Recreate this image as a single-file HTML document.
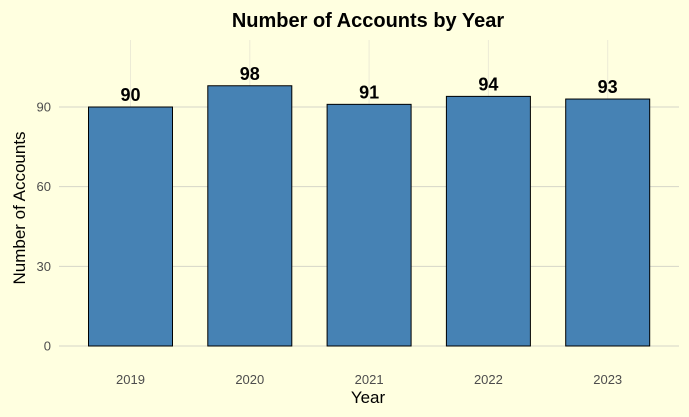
<!DOCTYPE html>
<html><head><meta charset="utf-8"><style>
html,body{margin:0;padding:0;background:#FFFFE0;}
svg{display:block;font-family:"Liberation Sans",sans-serif;}
</style></head><body>
<svg id="chart" width="689" height="417" viewBox="0 0 689 417">
<rect width="689" height="417" fill="#FFFFE0"/>
<text x="368" y="27" text-anchor="middle" font-size="20" font-weight="bold" fill="#000">Number of Accounts by Year</text>
<g id="grid"></g><g id="bars"></g><g id="labels"></g><g id="axes"></g>
<text x="368" y="403" text-anchor="middle" font-size="17" fill="#000">Year</text>
<text transform="translate(25,208) rotate(-90)" text-anchor="middle" font-size="17" fill="#000">Number of Accounts</text>
</svg>
<script>
const categories = ["2019","2020","2021","2022","2023"];
const values = [90,98,91,94,93];
const yTicks = [0,30,60,90];
const ns="http://www.w3.org/2000/svg";
const y0=346, pxPerUnit=(346-107)/90;
function yScale(v){return y0-v*pxPerUnit;}
const step=119.3, firstX=130.5;
function xScale(i){return firstX+i*step;}
const bw=84;
function mk(tag,attrs,parent){const e=document.createElementNS(ns,tag);for(const k in attrs)e.setAttribute(k,attrs[k]);document.getElementById(parent).appendChild(e);return e;}
yTicks.forEach(t=>{
  const l=mk('line',{x1:59,x2:679,y1:yScale(t),y2:yScale(t),stroke:'#d6d6c8','stroke-width':1},'grid');
  
  
  const tx=mk('text',{x:51,y:yScale(t)+4.5,'text-anchor':'end','font-size':13,fill:'#4d4d4d'},'axes');
  tx.textContent=t;
  
  
});
categories.forEach((c,i)=>{
  const g=mk('line',{x1:xScale(i),x2:xScale(i),y1:40,y2:346,stroke:'#ecebd6','stroke-width':1},'grid');
  
  
  const r=mk('rect',{x:xScale(i)-bw/2,y:yScale(values[i]),width:bw,height:y0-yScale(values[i]),fill:'#4682B4',stroke:'#000','stroke-width':1},'bars');
  
  
  const v=mk('text',{x:xScale(i),y:yScale(values[i])-6,'text-anchor':'middle','font-size':18,'font-weight':'bold',fill:'#000'},'labels');
  v.textContent=values[i];
  
  
  const xt=mk('text',{x:xScale(i),y:384,'text-anchor':'middle','font-size':13,fill:'#4d4d4d'},'axes');
  xt.textContent=c;
  
  
});
</script>
</body></html>
